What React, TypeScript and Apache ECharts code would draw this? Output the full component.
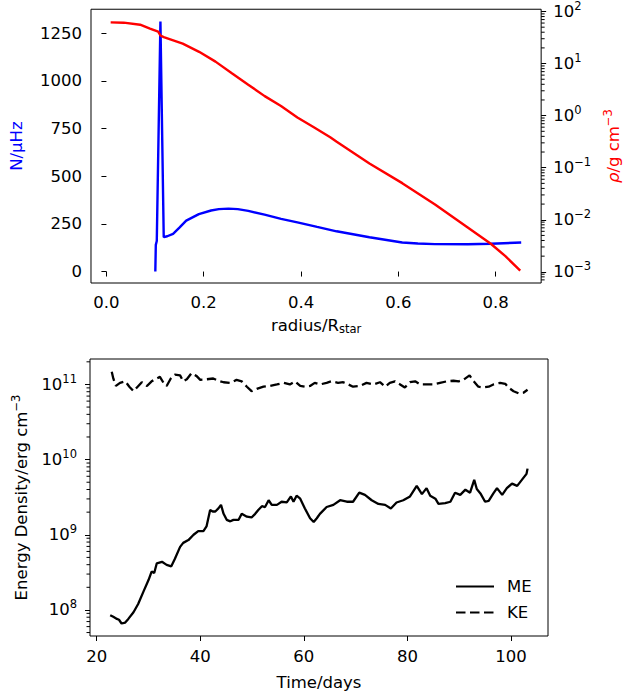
import React, { useEffect, useRef } from "react";
import * as echarts from "echarts";

// ---------- data ----------
const nRadius = [0.1005, 0.1015, 0.1035, 0.111, 0.1178, 0.125, 0.137, 0.15, 0.164, 0.19, 0.215, 0.231, 0.251, 0.27, 0.2915, 0.325, 0.359, 0.3925, 0.433, 0.473, 0.5406, 0.608, 0.64, 0.675, 0.7426, 0.79, 0.8525];
const nValues = [0, 140, 160, 1310, 180, 185, 198, 230, 267, 301, 320, 327, 330, 327, 318, 298, 276, 258, 234, 211, 180, 152, 147, 144, 143, 146, 152];

const rhoRadius = [0.0087, 0.0356, 0.0693, 0.0895, 0.1063, 0.111, 0.1178, 0.1568, 0.1905, 0.2242, 0.2578, 0.2915, 0.3253, 0.3588, 0.3925, 0.4263, 0.46, 0.4733, 0.5406, 0.608, 0.6754, 0.7426, 0.79, 0.82, 0.8505];
const rhoValues = [61.9, 61.0, 55.8, 46.8, 41.1, 34.6, 32.2, 24.1, 16.8, 10.9, 6.53, 3.93, 2.37, 1.53, 0.92, 0.596, 0.385, 0.316, 0.1205, 0.0505, 0.0197, 0.00713, 0.00346, 0.0020, 0.00105];

const meDays = [22.6, 23.2, 23.9, 24.3, 24.8, 25.5, 26.1, 27.1, 28.0, 29.0, 30.0, 30.6, 31.1, 31.6, 32.6, 33.5, 34.4, 35.1, 36.1, 36.7, 37.7, 38.7, 39.6, 40.6, 41.2, 41.9, 42.4, 42.9, 43.5, 44.0, 44.5, 45.1, 45.8, 46.4, 47.4, 48.0, 49.0, 49.9, 50.6, 51.2, 51.9, 52.5, 53.2, 53.8, 54.8, 55.7, 56.7, 57.5, 58.0, 58.6, 59.3, 60.2, 61.2, 61.9, 62.5, 63.1, 64.4, 65.7, 67.0, 68.3, 69.5, 70.7, 71.8, 73.1, 74.4, 75.7, 76.8, 77.9, 79.2, 80.5, 81.8, 82.8, 83.7, 84.4, 85.4, 86.0, 87.3, 88.3, 89.2, 90.2, 91.2, 92.1, 92.9, 93.4, 94.1, 95.0, 95.7, 96.6, 97.3, 98.3, 99.2, 100.2, 101.2, 102.1, 103.0, 103.2];
const meValues = [8.5e7, 8.1e7, 7.6e7, 7.4e7, 6.6e7, 6.8e7, 7.6e7, 9.3e7, 1.2e8, 1.74e8, 2.5e8, 3.24e8, 3.1e8, 4.17e8, 4.37e8, 3.98e8, 3.8e8, 4.79e8, 6.9e8, 7.8e8, 8.5e8, 1.0e9, 1.12e9, 1.12e9, 1.29e9, 2.14e9, 2.04e9, 2.04e9, 2.24e9, 2.5e9, 1.9e9, 1.58e9, 1.51e9, 1.58e9, 1.58e9, 1.9e9, 1.74e9, 1.7e9, 1.9e9, 2.14e9, 2.4e9, 2.34e9, 2.88e9, 2.5e9, 2.5e9, 2.75e9, 2.69e9, 3.24e9, 2.75e9, 3.31e9, 3.02e9, 2.24e9, 1.66e9, 1.48e9, 1.66e9, 1.9e9, 2.34e9, 2.5e9, 2.88e9, 2.75e9, 2.75e9, 3.63e9, 3.39e9, 2.88e9, 2.57e9, 2.5e9, 2.24e9, 2.69e9, 2.88e9, 3.24e9, 4.47e9, 3.47e9, 4.17e9, 3.31e9, 3.02e9, 2.57e9, 2.63e9, 2.75e9, 3.63e9, 3.39e9, 3.98e9, 3.63e9, 5.37e9, 4.07e9, 3.55e9, 2.75e9, 2.82e9, 3.55e9, 4.17e9, 3.39e9, 4.17e9, 4.79e9, 4.47e9, 5.37e9, 6.46e9, 7.59e9];

const keDays = [22.9, 23.2, 23.7, 24.5, 25.5, 26.3, 27.1, 27.9, 28.7, 29.7, 30.6, 31.6, 32.2, 32.9, 33.5, 34.3, 35.1, 36.1, 36.7, 37.4, 38.3, 39.3, 40.0, 41.2, 42.5, 43.5, 44.5, 45.8, 47.0, 48.0, 49.0, 49.9, 50.9, 52.2, 53.5, 54.8, 56.1, 57.3, 58.3, 59.3, 60.2, 61.2, 62.1, 63.1, 64.4, 65.3, 66.6, 67.6, 68.6, 69.5, 70.8, 72.1, 73.4, 74.7, 75.7, 76.6, 77.6, 78.6, 79.5, 80.5, 81.5, 82.5, 83.7, 85.0, 86.3, 87.6, 88.9, 89.9, 90.8, 92.0, 92.8, 93.7, 94.7, 95.7, 96.6, 97.9, 98.9, 99.5, 100.5, 101.5, 102.4, 103.2];
const keValues = [1.48e11, 1.2e11, 9.55e10, 1.05e11, 1.1e11, 9.33e10, 8.13e10, 9.33e10, 1.07e11, 9.55e10, 1.1e11, 1.2e11, 1.26e11, 1.05e11, 9.55e10, 1.2e11, 1.35e11, 1.32e11, 1.1e11, 1.17e11, 1.41e11, 1.29e11, 1.15e11, 1.17e11, 1.2e11, 1.12e11, 1.07e11, 1.05e11, 1.15e11, 1.1e11, 9.33e10, 8.13e10, 8.71e10, 9.33e10, 9.55e10, 1.0e11, 1.05e11, 1.0e11, 1.1e11, 9.55e10, 9.33e10, 9.55e10, 1.05e11, 1.0e11, 1.05e11, 1.1e11, 1.05e11, 1.07e11, 1.0e11, 9.33e10, 9.55e10, 1.05e11, 1.0e11, 1.07e11, 9.33e10, 1.05e11, 1.1e11, 1.0e11, 9.12e10, 1.07e11, 1.1e11, 1.0e11, 1.0e11, 1.0e11, 1.05e11, 1.1e11, 1.12e11, 1.1e11, 1.15e11, 1.32e11, 1.1e11, 9.33e10, 9.12e10, 9.33e10, 1.0e11, 1.05e11, 1.02e11, 9.12e10, 8.13e10, 7.59e10, 7.76e10, 8.51e10];

const radiusTicks = [0, 0.2, 0.4, 0.6, 0.8];
const nTicks = [0, 250, 500, 750, 1000, 1250];
const rhoTicks = [1e-3, 1e-2, 1e-1, 1, 10, 100];
const timeTicks = [20, 40, 60, 80, 100];
const energyTicks = [1e8, 1e9, 1e10, 1e11];

// ---------- styling ----------
const FONT = "DejaVu Sans";
const FS = 16.5;
const SUP = 11.5;

const R_MIN = -0.0317;
const R_MAX = 0.8935;
const T_MIN = 18.7;
const T_MAX = 107.15;
const RHO_MIN = 6.1e-4;
const RHO_MAX = 110.5;
const E_MIN = 4.5e7;
const E_MAX = 2.18e11;

function minorLogTicks(lo: number, hi: number): number[] {
  const out: number[] = [];
  const e0 = Math.floor(Math.log10(lo));
  const e1 = Math.ceil(Math.log10(hi));
  for (let e = e0; e <= e1; e++) {
    for (let m = 2; m <= 9; m++) {
      const v = m * Math.pow(10, e);
      if (v >= lo && v <= hi) out.push(v);
    }
  }
  return out;
}

function powLabel(v: number): string {
  const e = Math.round(Math.log10(v));
  const s = e < 0 ? "\u2212" + -e : String(e);
  return "10{sup|" + s + "}";
}

const supRich = {
  sup: { fontSize: SUP, fontFamily: FONT, color: "#000", padding: [0, 0, 11, 0] },
};

const tickStyle = { color: "#000", width: 1 };

function baseLabel(extra: any) {
  return { color: "#000", fontFamily: FONT, fontSize: FS, ...extra };
}

export default function App() {
  const ref = useRef<HTMLDivElement>(null);

  useEffect(() => {
    if (!ref.current) return;
    const chart = echarts.init(ref.current, null, { renderer: "svg" });

    const gridCommon = {
      show: true,
      borderColor: "#000",
      borderWidth: 1,
      backgroundColor: "transparent",
      containLabel: false,
    };

    const option: any = {
      animation: false,
      backgroundColor: "#ffffff",
      textStyle: { fontFamily: FONT },
      grid: [
        { ...gridCommon, left: 90, top: 5, width: 458, height: 278 },
        { ...gridCommon, left: 90, top: 359, width: 458, height: 277 },
      ],
      xAxis: [
        {
          type: "value",
          gridIndex: 0,
          min: R_MIN,
          max: R_MAX,
          splitLine: { show: false },
          axisLine: { show: false },
          axisTick: { show: true, length: 5, lineStyle: tickStyle, customValues: radiusTicks },
          axisLabel: baseLabel({ margin: 11, customValues: radiusTicks, formatter: (v: number) => v.toFixed(1) }),
          name: "radius/R{sub|star}",
          nameLocation: "middle",
          nameGap: 33,
          nameTextStyle: {
            color: "#000",
            fontFamily: FONT,
            fontSize: FS,
            rich: { sub: { fontSize: SUP, fontFamily: FONT, color: "#000", padding: [7, 0, 0, 0] } },
          },
        },
        {
          type: "value",
          gridIndex: 1,
          min: T_MIN,
          max: T_MAX,
          splitLine: { show: false },
          axisLine: { show: false },
          axisTick: { show: true, length: 5, lineStyle: tickStyle, customValues: timeTicks },
          axisLabel: baseLabel({ margin: 12, customValues: timeTicks, formatter: (v: number) => String(v) }),
          name: "Time/days",
          nameLocation: "middle",
          nameGap: 38,
          nameTextStyle: { color: "#000", fontFamily: FONT, fontSize: FS },
        },
      ],
      yAxis: [
        {
          type: "value",
          gridIndex: 0,
          position: "left",
          min: -60,
          max: 1375,
          splitLine: { show: false },
          axisLine: { show: false },
          axisTick: { show: true, length: 5, lineStyle: tickStyle, customValues: nTicks },
          axisLabel: baseLabel({ margin: 9, customValues: nTicks, formatter: (v: number) => String(v) }),
          name: "N/\u03bcHz",
          nameLocation: "middle",
          nameRotate: 90,
          nameGap: 66,
          nameTextStyle: { color: "#0000ff", fontFamily: FONT, fontSize: FS },
        },
        {
          type: "log",
          logBase: 10,
          gridIndex: 0,
          position: "right",
          min: RHO_MIN,
          max: RHO_MAX,
          splitLine: { show: false },
          minorTick: { show: false },
          axisLine: { show: false },
          axisTick: { show: true, length: 5, lineStyle: tickStyle, customValues: rhoTicks },
          axisLabel: baseLabel({ margin: 12, customValues: rhoTicks, formatter: powLabel, rich: supRich }),
          name: "{i|\u03c1}/g cm{sup|\u22123}",
          nameLocation: "middle",
          nameRotate: 90,
          nameGap: 58,
          nameTextStyle: {
            color: "#ff0000",
            fontFamily: FONT,
            fontSize: FS,
            rich: {
              i: { fontStyle: "italic", fontFamily: FONT, fontSize: FS, color: "#ff0000" },
              sup: { fontSize: SUP, fontFamily: FONT, color: "#ff0000", padding: [0, 0, 11, 0] },
            },
          },
        },
        {
          type: "log",
          logBase: 10,
          gridIndex: 1,
          position: "left",
          min: E_MIN,
          max: E_MAX,
          splitLine: { show: false },
          minorTick: { show: false },
          axisLine: { show: false },
          axisTick: { show: true, length: 5, lineStyle: tickStyle, customValues: energyTicks },
          axisLabel: baseLabel({ margin: 13, customValues: energyTicks, formatter: powLabel, rich: supRich }),
          name: "Energy Density/erg cm{sup|\u22123}",
          nameLocation: "middle",
          nameRotate: 90,
          nameGap: 55,
          nameTextStyle: {
            color: "#000",
            fontFamily: FONT,
            fontSize: FS,
            rich: { sup: { fontSize: SUP, fontFamily: FONT, color: "#000", padding: [0, 0, 11, 0] } },
          },
        },
      ],
      legend: {
        orient: "vertical",
        left: 450,
        top: 573,
        itemWidth: 38,
        itemHeight: 14,
        itemGap: 9,
        data: ["ME", "KE"],
        itemStyle: { opacity: 0, color: "transparent", borderWidth: 0 },
        textStyle: { color: "#000", fontFamily: FONT, fontSize: FS, lineHeight: 17, padding: [0, 0, 0, 8] },
      },
      series: [
        {
          name: "N",
          type: "line",
          xAxisIndex: 0,
          yAxisIndex: 0,
          symbol: "none",
          lineStyle: { color: "#0000ff", width: 2.4 },
          itemStyle: { color: "#0000ff" },
          data: nRadius.map((x, i) => [x, nValues[i]]),
          z: 2,
        },
        {
          name: "rho",
          type: "line",
          xAxisIndex: 0,
          yAxisIndex: 1,
          symbol: "none",
          lineStyle: { color: "#ff0000", width: 2.4 },
          itemStyle: { color: "#ff0000" },
          data: rhoRadius.map((x, i) => [x, rhoValues[i]]),
          z: 3,
        },
        {
          name: "ME",
          type: "line",
          xAxisIndex: 1,
          yAxisIndex: 2,
          symbol: "none",
          lineStyle: { color: "#000", width: 2.3 },
          itemStyle: { color: "#000" },
          data: meDays.map((x, i) => [x, meValues[i]]),
        },
        {
          name: "KE",
          type: "line",
          xAxisIndex: 1,
          yAxisIndex: 2,
          symbol: "none",
          lineStyle: { color: "#000", width: 2.3, type: [9.5, 4.5] },
          itemStyle: { color: "#000" },
          data: keDays.map((x, i) => [x, keValues[i]]),
        },
      ],
    };

    chart.setOption(option);

    // minor log ticks, positioned through the axes' own scales
    const rightX = chart.convertToPixel({ xAxisIndex: 0 }, R_MAX) as number;
    const leftX = chart.convertToPixel({ xAxisIndex: 1 }, T_MIN) as number;
    const minorEls: any[] = [];
    minorLogTicks(RHO_MIN, RHO_MAX).forEach((v) => {
      const y = chart.convertToPixel({ yAxisIndex: 1 }, v) as number;
      minorEls.push({
        type: "line",
        shape: { x1: rightX, y1: y, x2: rightX + 3.5, y2: y },
        style: { stroke: "#000", lineWidth: 1 },
      });
    });
    minorLogTicks(E_MIN, E_MAX).forEach((v) => {
      const y = chart.convertToPixel({ yAxisIndex: 2 }, v) as number;
      minorEls.push({
        type: "line",
        shape: { x1: leftX - 3.5, y1: y, x2: leftX, y2: y },
        style: { stroke: "#000", lineWidth: 1 },
      });
    });
    chart.setOption({ graphic: { elements: minorEls } });

    return () => chart.dispose();
  }, []);

  return (
    <div
      ref={ref}
      style={{ position: "absolute", left: 0, top: 0, width: 630, height: 697, background: "#fff" }}
    />
  );
}
